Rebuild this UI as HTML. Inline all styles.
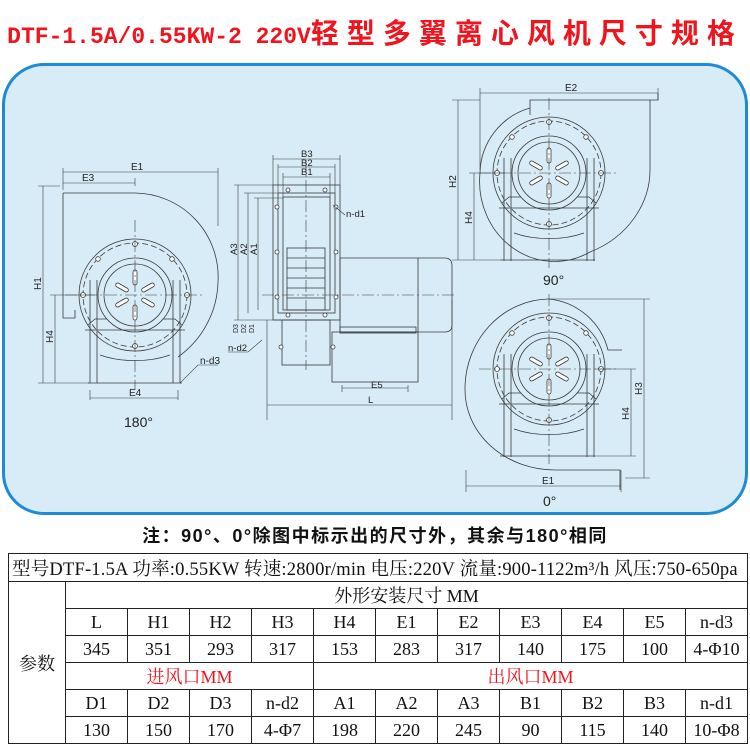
<!DOCTYPE html>
<html><head><meta charset="utf-8"><style>
body{margin:0;width:750px;height:750px;background:#fff;position:relative;overflow:hidden;font-family:"Liberation Sans","Noto Sans CJK SC",sans-serif}
.title{position:absolute;left:0;top:12px;width:750px;text-align:center;color:#f0141e;font-weight:bold;white-space:nowrap}
.title .l{font-family:"Liberation Mono",monospace;font-size:23px}
.title .c{font-family:"Noto Sans CJK SC",sans-serif;font-size:28px;letter-spacing:8px}
.panel{position:absolute;left:2px;top:63px;width:740px;height:446px;border:3px solid #1c8cd8;border-radius:42px;background:#d8ecf8}
.note{position:absolute;left:0;top:522px;width:750px;text-align:center;font-weight:bold;font-size:18px;letter-spacing:1.5px;font-family:"Liberation Sans","Noto Sans CJK SC",sans-serif;color:#111}
table{position:absolute;left:8px;top:553px;border-collapse:collapse;font-family:"Liberation Serif","Noto Serif CJK SC",serif;font-size:18px;color:#111}
td{border:1px solid #222;text-align:center;padding:0;height:26px;width:61px}
.red{color:#f0141e}
</style></head><body>
<div class="title"><span class="l">DTF-1.5A/0.55KW-2 220V</span><span class="c">轻型多翼离心风机尺寸规格</span></div>
<div class="panel"></div>
<svg style="position:absolute;left:0;top:0" width="750" height="520" viewBox="0 0 750 520" fill="none" stroke="#3a3a3a" stroke-width="0.8" font-family="Liberation Sans, sans-serif">
<defs>
<g id="core">
<circle r="56"/><circle r="52" stroke-dasharray="6 3"/><circle r="37"/><circle r="31"/>
<g fill="#fff"><circle cx="0" cy="-51" r="2.5"/><circle cx="-52" cy="0" r="2.5"/><circle cx="52" cy="0" r="2.5"/><circle cx="0" cy="51" r="2.5"/><circle cx="-37" cy="-36" r="2.3"/><circle cx="37" cy="-36" r="2.3"/></g>
<g fill="#fff"><rect x="-2" y="-25" width="4" height="15" rx="2"/><rect x="-2" y="10" width="4" height="15" rx="2"/>
<rect x="-2" y="-22" width="4" height="14" rx="2" transform="rotate(60)"/><rect x="-2" y="-22" width="4" height="14" rx="2" transform="rotate(120)"/>
<rect x="-2" y="-22" width="4" height="14" rx="2" transform="rotate(-60)"/><rect x="-2" y="-22" width="4" height="14" rx="2" transform="rotate(-120)"/></g>
<path d="M-45,-15 V88 M-38,-15 V88 M38,-15 V88 M45,-15 V88 M-50,35 H50 M-47,30 L-40,24 L-28,24 M47,30 L40,24 L28,24"/>
<path d="M-35,60 A60 30 0 0 0 35,60"/>
<path d="M-70,0 H70 M0,-75 V95" stroke-dasharray="12 3 2 3" stroke-width="0.6"/>
</g>
</defs>
<g>
<path d="M63,193 L135,193 A84,84 0 0 1 218,282 A95,95 0 0 1 178,357 M63,193 V318 H75 V310"/>
<use href="#core" transform="translate(135,295)"/>
<path d="M88,383 H182"/>
<path d="M63,172 H218 M63,183 H135 M63,168 V190 M218,168 V226 M135,178 V186 M43,186 V383 M38,186 H60 M38,383 H90 M55,295 V383 M50,295 H95 M90,390 V400 M178,390 V400 M90,398 H178" stroke-width="0.6"/>
<path d="M180,383 L198,365 H218" stroke-width="0.6"/>
<g fill="#222" stroke="none" font-size="10"><text x="131" y="170">E1</text><text x="82" y="181">E3</text><text x="129" y="396">E4</text><text x="200" y="364">n-d3</text>
<text transform="translate(41,290) rotate(-90)">H1</text><text transform="translate(53,343) rotate(-90)">H4</text>
<text x="124" y="427" font-size="14">180°</text></g>
</g>
<g>
<rect x="273" y="185" width="67" height="135"/><rect x="278" y="193" width="57" height="120"/><rect x="283" y="197" width="47" height="113"/>
<rect x="287" y="248" width="38" height="62"/><path d="M287,258 H325 M287,268 H325 M287,278 H325 M287,288 H325 M287,298 H325"/>
<rect x="282" y="320" width="48" height="45"/>
<path d="M340,258 H418 V332 H340 Z M418,258 H445 Q452,258 452,266 V325 Q452,332 445,332 H418"/>
<rect x="332" y="332" width="86" height="50"/><rect x="340" y="327" width="76" height="6"/>
<path d="M262,295 H455 M306,160 V370" stroke-dasharray="12 3 2 3" stroke-width="0.6"/>
<g fill="#fff"><circle cx="288" cy="190" r="2"/><circle cx="325" cy="190" r="2"/><circle cx="277" cy="207" r="2"/><circle cx="336" cy="207" r="2"/><circle cx="277" cy="252" r="2"/><circle cx="336" cy="252" r="2"/><circle cx="277" cy="297" r="2"/><circle cx="336" cy="297" r="2"/><circle cx="288" cy="315" r="2"/><circle cx="325" cy="315" r="2"/><circle cx="281" cy="347" r="2"/><circle cx="333" cy="347" r="2"/></g>
<path d="M273,159 H340 M278,167 H335 M283,177 H330 M273,155 V185 M340,155 V185 M278,164 V193 M335,164 V193 M283,173 V197 M330,173 V197 M238,185 V320 M248,193 V313 M258,198 V310 M234,185 H273 M244,193 H278 M254,198 H283 M234,320 H282 M267,320 V420 M452,300 V420 M267,405 H452 M342,385 V392 M408,385 V392 M342,388 H408" stroke-width="0.6"/>
<path d="M345,215 L333,205 M262,340 L248,352 H228" stroke-width="0.6"/>
<g fill="#222" stroke="none" font-size="9.5"><text x="301" y="157">B3</text><text x="301" y="166">B2</text><text x="301" y="175">B1</text><text x="346" y="217">n-d1</text><text x="228" y="351">n-d2</text><text x="371" y="388">E5</text><text x="368" y="403">L</text>
<text transform="translate(237,255) rotate(-90)">A3</text><text transform="translate(247,255) rotate(-90)">A2</text><text transform="translate(257,255) rotate(-90)">A1</text>
<text transform="translate(238,333) rotate(-90)" font-size="7">D3</text><text transform="translate(246,333) rotate(-90)" font-size="7">D2</text><text transform="translate(254,333) rotate(-90)" font-size="7">D1</text></g>
</g>
<g>
<path d="M480,173 A69,69 0 0 1 530,108 V100 H658 V93 M530,108 L530,115"/>
<path d="M480,173 A75,80 0 0 0 590,252 A100,90 0 0 0 650,168 V100"/>
<use href="#core" transform="translate(549,173)"/>
<path d="M500,260 H595"/>
<path d="M480,93 H658 M480,88 V170 M658,88 V100 M458,100 V260 M452,100 H480 M452,260 H500 M474,173 V260 M469,173 H505" stroke-width="0.6"/>
<g fill="#222" stroke="none" font-size="10"><text x="565" y="91">E2</text><text transform="translate(456,188) rotate(-90)">H2</text><text transform="translate(472,224) rotate(-90)">H4</text>
<text x="543" y="285" font-size="14">90°</text></g>
</g>
<g>
<path d="M549,299 A85,90 0 0 0 465,390 A90,80 0 0 0 555,470 H620 V490"/>
<path d="M549,299 A68,68 0 0 1 608,350 H622"/>
<use href="#core" transform="translate(549,369)"/>
<path d="M500,456 H595"/>
<path d="M466,486 H621 M466,470 V492 M621,470 V492 M644,299 V478 M549,299 H650 M625,478 H650 M631,369 V456 M595,369 H636 M595,456 H636" stroke-width="0.6"/>
<g fill="#222" stroke="none" font-size="10"><text x="542" y="484">E1</text><text transform="translate(642,395) rotate(-90)">H3</text><text transform="translate(629,420) rotate(-90)">H4</text>
<text x="543" y="506" font-size="14">0°</text></g>
</g>
</svg>
<div class="note">注：90°、0°除图中标示出的尺寸外，其余与180°相同</div>
<table>
<tr><td colspan="12" style="text-align:left;font-size:18.5px;white-space:nowrap;height:27px;padding-left:3px;letter-spacing:0.2px">型号DTF-1.5A 功率:0.55KW 转速:2800r/min 电压:220V 流量:900-1122m³/h 风压:750-650pa</td></tr>
<tr><td rowspan="6" style="width:56px">参数</td><td colspan="11">外形安装尺寸 MM</td></tr>
<tr><td>L</td><td>H1</td><td>H2</td><td>H3</td><td>H4</td><td>E1</td><td>E2</td><td>E3</td><td>E4</td><td>E5</td><td>n-d3</td></tr>
<tr><td>345</td><td>351</td><td>293</td><td>317</td><td>153</td><td>283</td><td>317</td><td>140</td><td>175</td><td>100</td><td>4-Φ10</td></tr>
<tr><td colspan="4" class="red">进风口MM</td><td colspan="7" class="red">出风口MM</td></tr>
<tr><td>D1</td><td>D2</td><td>D3</td><td>n-d2</td><td>A1</td><td>A2</td><td>A3</td><td>B1</td><td>B2</td><td>B3</td><td>n-d1</td></tr>
<tr><td>130</td><td>150</td><td>170</td><td>4-Φ7</td><td>198</td><td>220</td><td>245</td><td>90</td><td>115</td><td>140</td><td>10-Φ8</td></tr>
</table>
</body></html>
